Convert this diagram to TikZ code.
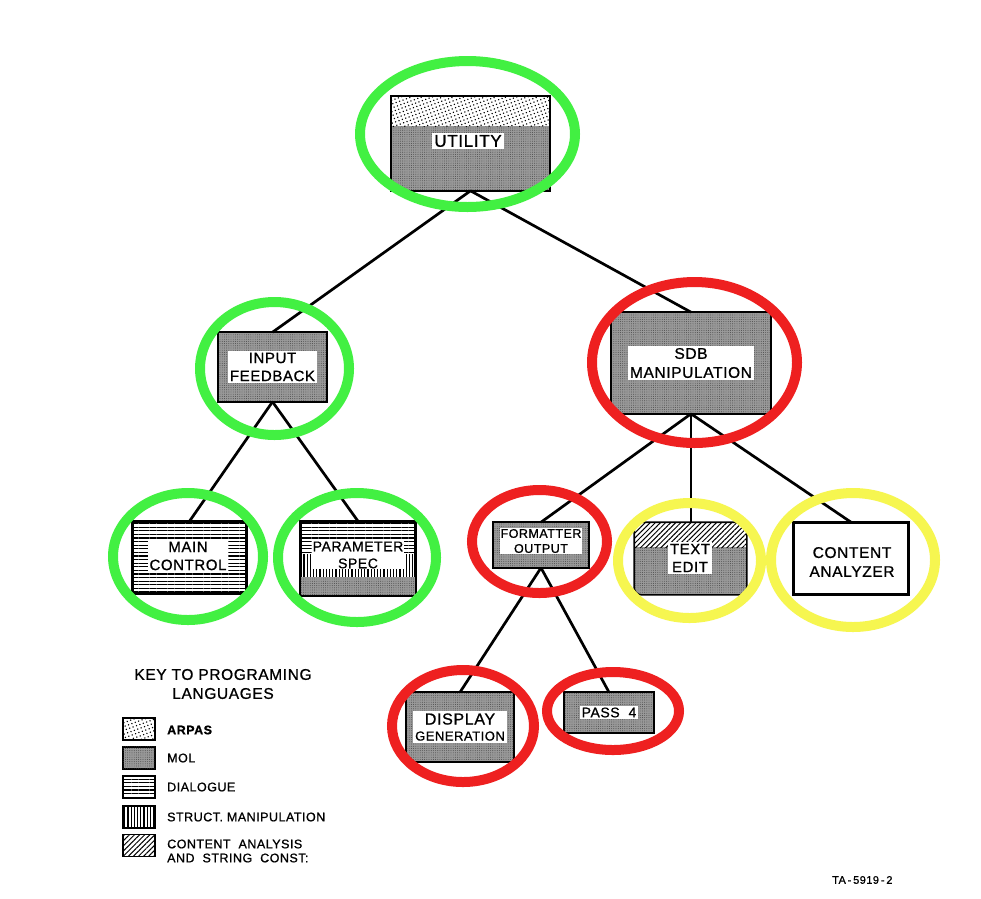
\documentclass[tikz,border=0pt]{standalone}
\usepackage{fontspec}
\setmainfont{Liberation Sans}[FakeBold=0.9, LetterSpace=4]
\usetikzlibrary{patterns.meta,calc}
\definecolor{hlgreen}{RGB}{66,240,66}
\definecolor{hlred}{RGB}{238,32,32}
\definecolor{hlyellow}{RGB}{246,246,80}
\tikzset{
  box/.style={draw=black, line width=1.6pt, rectangle, inner sep=0pt},
  mol/.style={fill=black!40},
  moldots/.style={pattern={Dots[radius=0.45pt,distance=2.2pt]}, pattern color=black!75},
  arpas/.style={pattern={Dots[radius=0.8pt,distance=3.6pt,angle=20]}, pattern color=black},
  dialogue/.style={pattern={Lines[angle=0,distance=3.6pt,line width=1.1pt]}, pattern color=black},
  structm/.style={pattern={Lines[angle=90,distance=3.2pt,line width=1.1pt]}, pattern color=black},
  contentan/.style={pattern={Lines[angle=45,distance=3.6pt,line width=1pt]}, pattern color=black},
  lab/.style={fill=white, inner sep=2pt, align=center, text=black},
  conn/.style={line width=2.7pt, black},
  ring/.style={line width=10pt},
  keytxt/.style={anchor=west, inner sep=0pt, font=\fontsize{12.5}{14}\selectfont},
}
\begin{document}
\begin{tikzpicture}[x=1pt,y=-1pt]
\useasboundingbox (0,0) rectangle (981,898);
\fill[white] (0,0) rectangle (981,898);

% ---- boxes ----
\node[box, minimum width=157, minimum height=93] (util) at (470.5,143.5) {};
\node[box, minimum width=107, minimum height=68] (inp) at (272.5,367) {};
\node[box, minimum width=158, minimum height=100] (sdb) at (691,363) {};
\node[box, minimum width=113, minimum height=71] (mainc) at (189.5,557.5) {};
\node[box, minimum width=114, minimum height=73] (param) at (358,558.5) {};
\node[box, minimum width=94, minimum height=44] (fmt) at (541,545) {};
\node[box, rounded corners=7pt, minimum width=111, minimum height=71] (textedit) at (690.5,558.5) {};
\node[box, minimum width=114, minimum height=71] (content) at (851,558.5) {};
\node[box, minimum width=106, minimum height=68] (disp) at (460,727) {};
\node[box, minimum width=88, minimum height=39] (pass) at (609,712.5) {};

% ---- fills ----
\foreach \b in {util,inp,sdb,fmt,disp,pass}{
  \fill[mol] (\b.north west) rectangle (\b.south east);
  \fill[moldots] (\b.north west) rectangle (\b.south east);
}
\fill[white] (util.north west) rectangle ($(util.north east)+(0,30)$);
\fill[arpas] (util.north west) rectangle ($(util.north east)+(0,30)$);

\fill[dialogue] (mainc.north west) rectangle (mainc.south east);

\fill[dialogue] (param.north west) rectangle ($(param.north east)+(0,33)$);
\fill[structm] ($(param.north west)+(0,33)$) rectangle ($(param.north east)+(0,56)$);
\fill[mol] ($(param.north west)+(0,56)$) rectangle (param.south east);
\fill[moldots] ($(param.north west)+(0,56)$) rectangle (param.south east);

\begin{scope}
  \clip[rounded corners=7pt] (textedit.north west) rectangle (textedit.south east);
  \fill[mol] (textedit.north west) rectangle (textedit.south east);
  \fill[moldots] (textedit.north west) rectangle (textedit.south east);
  \fill[white] (textedit.north west) rectangle ($(textedit.north east)+(0,25)$);
  \fill[contentan] (textedit.north west) rectangle ($(textedit.north east)+(0,25)$);
\end{scope}

% ---- borders again ----
\foreach \b in {util,inp,sdb,mainc,param,fmt,content,disp,pass}{
  \draw[line width=1.6pt] (\b.north west) rectangle (\b.south east);
}
\draw[line width=1.6pt, rounded corners=7pt] (textedit.north west) rectangle (textedit.south east);

% ---- labels ----
\node[lab, font=\fontsize{17}{19}\selectfont] (utilL) at (468,141) {UTILITY};
\node[lab, font=\fontsize{15}{18}\selectfont] (inpL) at (272.5,367) {INPUT\\FEEDBACK};
\node[lab, font=\fontsize{15.5}{19}\selectfont] (sdbL) at (691,363) {SDB\\MANIPULATION};
\node[lab, font=\fontsize{15}{18}\selectfont] (maincL) at (188,556) {MAIN\\CONTROL};
\node[lab, inner sep=1pt, font=\fontsize{14}{17}\selectfont] (paramL) at (358,555) {PARAMETER\\SPEC};
\node[lab, inner sep=1pt, font=\fontsize{12.5}{15}\selectfont] (fmtL) at (541,541) {FORMATTER\\OUTPUT};
\node[lab, font=\fontsize{15}{18}\selectfont] (textL) at (690,558) {TEXT\\EDIT};
\node[lab, font=\fontsize{15.5}{19}\selectfont] (contentL) at (852,562) {CONTENT\\ANALYZER};
\node[lab, font=\fontsize{13}{16}\selectfont] (dispL) at (460,727) {{\fontsize{16}{18}\selectfont DISPLAY}\\GENERATION};
\node[lab, font=\fontsize{14}{16}\selectfont] (passL) at (609,712.5) {PASS\ \ 4};

% ---- connectors ----
\draw[conn] (util.south) -- (inp.north);
\draw[conn] (util.south) -- (sdb.north);
\draw[conn] (inp.south) -- (mainc.north);
\draw[conn] (inp.south) -- (param.north);
\draw[conn] (sdb.south) -- (fmt.north);
\draw[conn] (sdb.south) -- (sdb.south |- textedit.north);
\draw[conn] (sdb.south) -- (content.north);
\draw[conn] (fmt.south) -- (disp.north);
\draw[conn] (fmt.south) -- (pass.north);

% ---- highlight rings ----
\draw[ring, hlgreen] (467.5,134) ellipse [x radius=107.5, y radius=73];
\draw[ring, hlgreen] (274.5,368.5) ellipse [x radius=74.5, y radius=66.5];
\draw[ring, hlred] (694.5,362.5) ellipse [x radius=102.5, y radius=80.5];
\draw[ring, hlgreen] (188,556.5) ellipse [x radius=75, y radius=63.5];
\draw[ring, hlgreen] (357,557.5) ellipse [x radius=79, y radius=64.5];
\draw[ring, hlred] (539.5,541.5) ellipse [x radius=67.5, y radius=51.5];
\draw[ring, hlyellow] (689.5,560.5) ellipse [x radius=71.5, y radius=57.5];
\draw[ring, hlyellow] (853,560) ellipse [x radius=82, y radius=67];
\draw[ring, hlred] (463,726) ellipse [x radius=71, y radius=56];
\draw[ring, hlred] (613,711) ellipse [x radius=66, y radius=39];

% ---- key ----
\node[font=\fontsize{15.5}{19}\selectfont, align=center, inner sep=0pt] (keyT) at (223,684) {KEY TO PROGRAMING\\LANGUAGES};
\node[draw, line width=1.4pt, minimum width=32, minimum height=22, inner sep=0pt, arpas] (k1) at (139,729) {};
\node[draw, line width=1.4pt, minimum width=32, minimum height=22, inner sep=0pt, mol] (k2) at (139,758) {};
\fill[moldots] (k2.north west) rectangle (k2.south east);
\node[draw, line width=1.4pt, minimum width=32, minimum height=22, inner sep=0pt, dialogue] (k3) at (139,787) {};
\node[draw, line width=1.4pt, minimum width=32, minimum height=22, inner sep=0pt, structm] (k4) at (139,817) {};
\node[draw, line width=1.4pt, minimum width=32, minimum height=22, inner sep=0pt, contentan] (k5) at (139,845.5) {};
\node[keytxt, font=\fontsize{12.5}{14}\selectfont\bfseries] (k1t) at (167,730) {ARPAS};
\node[keytxt] (k2t) at (167,758) {MOL};
\node[keytxt] (k3t) at (167,787) {DIALOGUE};
\node[keytxt] (k4t) at (167,817) {STRUCT.\ MANIPULATION};
\node[keytxt, align=left] (k5t) at (167,851) {CONTENT\ \ ANALYSIS\\AND\ \ STRING\ \ CONST:};

\node[font=\fontsize{11}{13}\selectfont, anchor=west, inner sep=0pt] (ta) at (832,880) {TA\,-\,5919\,-\,2};
\end{tikzpicture}
\end{document}
